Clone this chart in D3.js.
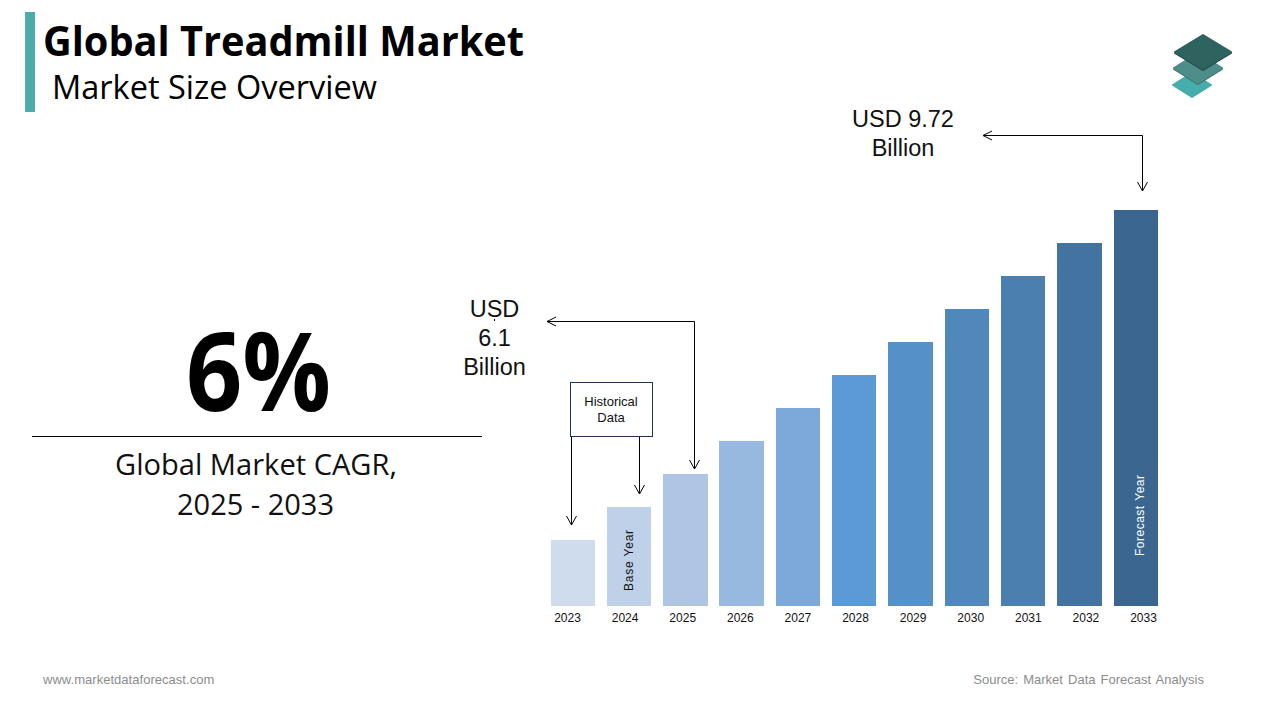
<!DOCTYPE html>
<html>
<head>
<meta charset="utf-8">
<script src="https://cdn.jsdelivr.net/npm/d3@7"></script>
<style>
html, body { margin: 0; padding: 0; background: #fff; }
svg { display: block; }
.arial { font-family: "Liberation Sans", Arial, sans-serif; }
.cal { font-family: "Open Sans", "Noto Sans", sans-serif; }
</style>
</head>
<body>
<svg id="chart" width="1280" height="720"></svg>
<script>
var years = ["2023", "2024", "2025", "2026", "2027", "2028", "2029", "2030", "2031", "2032", "2033"];
var marketSize = [5.2, 5.65, 6.1, 6.55, 7.0, 7.46, 7.91, 8.36, 8.81, 9.27, 9.72];
var barColors = ["#cfdcee", "#bed1e9", "#aec6e4", "#98b9df", "#7ca9da", "#5c9ad6", "#5690c8", "#5088bb", "#4a7fb0", "#4273a1", "#3b6690"];

var svg = d3.select("#chart");

var x = d3.scaleBand()
    .domain(years)
    .range([550.5, 1158])
    .paddingInner(0.21)
    .paddingOuter(0);

var y = d3.scaleLinear()
    .domain([4.29, 9.72])
    .range([606, 210]);

// year labels in the picture do not sit quite under the bars
var xLabels = d3.scalePoint()
    .domain(years)
    .range([567, 1143]);

svg.selectAll(".bar")
    .data(years)
    .enter().append("rect")
    .attr("class", "bar")
    .attr("x", function(d) { return x(d); })
    .attr("y", function(d, i) { return y(marketSize[i]); })
    .attr("width", x.bandwidth())
    .attr("height", function(d, i) { return 606 - y(marketSize[i]); })
    .attr("fill", function(d, i) { return barColors[i]; })
    .attr("shape-rendering", "crispEdges");

var xAxis = svg.append("g")
    .attr("class", "x axis arial")
    .attr("transform", "translate(0,606)")
    .call(d3.axisBottom(xLabels).tickSize(0).tickPadding(7));
xAxis.select(".domain").remove();
xAxis.selectAll("text")
    .attr("font-size", 12)
    .attr("fill", "#111");

// text squeezed to the measured width, the original face is not installed
function fitted(str, px, py, size, weight, width, color) {
    return svg.append("text").attr("class", "cal")
        .attr("x", px).attr("y", py)
        .attr("font-size", size).attr("font-weight", weight).attr("fill", color)
        .attr("textLength", width).attr("lengthAdjust", "spacingAndGlyphs")
        .text(str);
}

// header
svg.append("rect").attr("x", 25).attr("y", 12).attr("width", 10).attr("height", 100).attr("fill", "#4bacac");
fitted("Global Treadmill Market", 43, 56, 41, 700, 481, "#000");
fitted("Market Size Overview", 52, 99, 33, 400, 325, "#000");

// logo
function plate(cx, cy, w, h, color) {
    var pts = [[cx - w, cy], [cx, cy - h], [cx + w, cy], [cx, cy + h]];
    svg.append("polygon")
        .attr("points", pts.join(" "))
        .attr("fill", color)
        .attr("stroke", color)
        .attr("stroke-width", 2)
        .attr("stroke-linejoin", "round");
}
plate(1192, 85, 19, 12, "#45adab");
plate(1198, 69, 24, 15, "#3d6f6c");
plate(1198, 68, 24, 15, "#4f8d8a");
plate(1203, 53, 28, 17, "#1f4643");
plate(1203, 52, 28, 17, "#2f6360");

// CAGR block
fitted("6%", 186, 411, 110, 700, 145, "#000");
svg.append("line").attr("x1", 32).attr("x2", 482).attr("y1", 436.5).attr("y2", 436.5)
    .attr("stroke", "#000").attr("stroke-width", 1);
fitted("Global Market CAGR,", 115, 475, 29, 400, 282, "#111");
fitted("2025 - 2033", 177, 515, 29, 400, 157, "#111");

// callout labels
function label(lines, cx, ys, size) {
    lines.forEach(function(t, i) {
        svg.append("text").attr("class", "arial").attr("x", cx).attr("y", ys[i])
            .attr("text-anchor", "middle").attr("font-size", size).attr("fill", "#111").text(t);
    });
}
label(["USD 9.72", "Billion"], 903, [127, 156], 23.5);
label(["USD", "6.1", "Billion"], 494.5, [317, 346, 375], 23.5);

function arrow(points) {
    svg.append("path")
        .attr("d", d3.line()(points))
        .attr("fill", "none").attr("stroke", "#000").attr("stroke-width", 1);
}
function headDown(px, py) { arrow([[px - 5, py - 9], [px, py], [px + 5, py - 9]]); }
function headLeft(px, py) { arrow([[px + 9, py - 4.5], [px, py], [px + 9, py + 4.5]]); }

arrow([[983, 135.5], [1142.5, 135.5], [1142.5, 191]]);
headLeft(983, 135.5);
headDown(1142.5, 191);

arrow([[547, 321.5], [694.5, 321.5], [694.5, 469]]);
headLeft(547, 321.5);
headDown(694.5, 469);

// stray tick under the S of USD
arrow([[494.5, 319], [494.5, 321]]);

// historical data box
svg.append("rect").attr("x", 570.5).attr("y", 382.5).attr("width", 82).attr("height", 54)
    .attr("fill", "#fff").attr("stroke", "#1f3552").attr("stroke-width", 1);
label(["Historical", "Data"], 611, [406, 422], 13);
arrow([[571.5, 437], [571.5, 525]]);
headDown(571.5, 525);
arrow([[639.5, 437], [639.5, 494]]);
headDown(639.5, 494);

// rotated bar notes
svg.append("text").attr("class", "arial")
    .attr("transform", "translate(633,591) rotate(-90)")
    .attr("font-size", 12).attr("letter-spacing", 0.8).attr("fill", "#111")
    .text("Base Year");
svg.append("text").attr("class", "arial")
    .attr("transform", "translate(1144,556) rotate(-90)")
    .attr("font-size", 12).attr("letter-spacing", 0.5).attr("word-spacing", 1).attr("fill", "#fff")
    .text("Forecast Year");

// footer
svg.append("text").attr("class", "arial").attr("x", 43).attr("y", 684)
    .attr("font-size", 13).attr("letter-spacing", 0.03).attr("fill", "#8c8c8c").text("www.marketdataforecast.com");
svg.append("text").attr("class", "arial").attr("x", 1204).attr("y", 684)
    .attr("text-anchor", "end").attr("font-size", 13).attr("fill", "#8c8c8c")
    .attr("word-spacing", 1.5)
    .text("Source: Market Data Forecast Analysis");
</script>
</body>
</html>
